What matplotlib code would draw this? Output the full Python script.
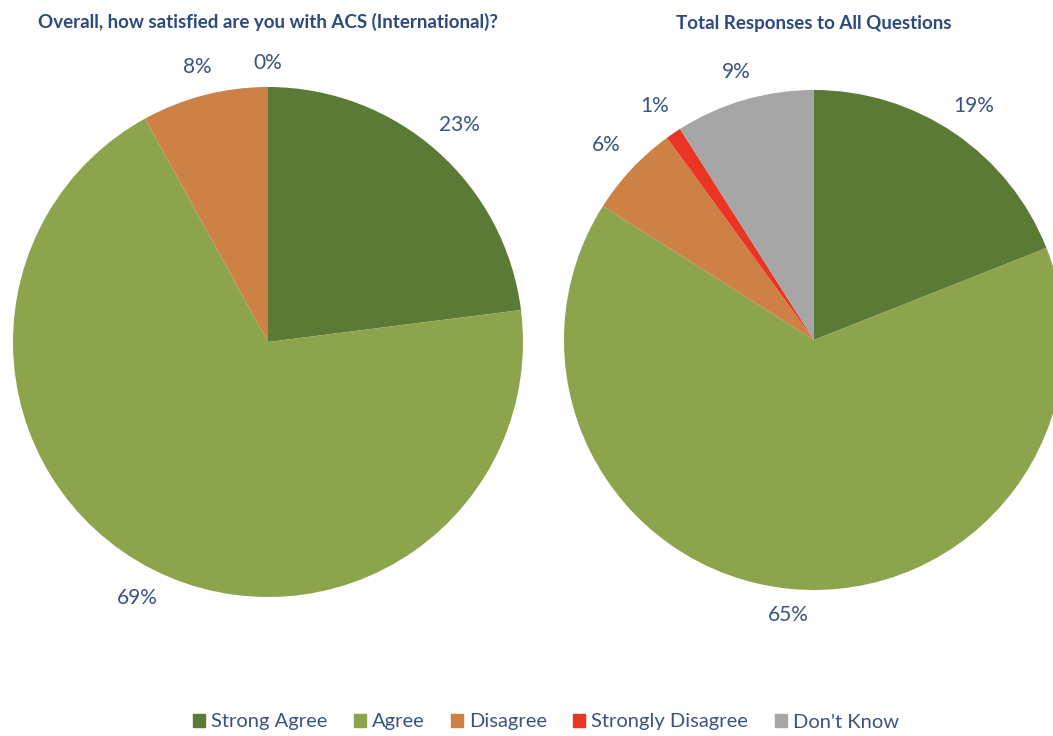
import matplotlib
matplotlib.use('Agg')
import numpy as np
import matplotlib.pyplot as plt
from matplotlib.patches import Patch

plt.rcParams['font.family'] = ['Lato', 'DejaVu Sans']

# data
categories = ['Strong Agree', 'Agree', 'Disagree', 'Strongly Disagree', "Don't Know"]
overall_vals = [23, 69, 8, 0]
total_vals = [19, 65, 6, 1, 9]
titles = ['Overall, how satisfied are you with ACS (International)?',
          'Total Responses to All Questions']

# colors
colors = ['#5b7a35', '#8ca44c', '#cd8144', '#ea3424', '#a6a6a6']
txtcol = '#3a5482'
titlecol = '#2c4a7c'

W, H = 1053, 736
fig = plt.figure(figsize=(W / 100, H / 100), dpi=100)

# pie centres / radii in pixels, title y
geoms = [(268, 342, 255, 22), (814, 340, 250, 24)]
gap, hw, hh = 14, 20, 10  # label gap and half text box size (px)
for vals, (cx, cy, r, ty), title in zip([overall_vals, total_vals], geoms, titles):
    ax = fig.add_axes([(cx - r) / W, (H - cy - r) / H, 2 * r / W, 2 * r / H])
    wedges, _, autotexts = ax.pie(vals, colors=colors[:len(vals)],
                                  startangle=90, counterclock=False,
                                  autopct='%.0f%%', pctdistance=1.15,
                                  wedgeprops=dict(linewidth=0))
    # place labels just outside the rim, like excel's "outside end"
    for w, t in zip(wedges, autotexts):
        ang = np.deg2rad((w.theta1 + w.theta2) / 2)
        c, s = np.cos(ang), np.sin(ang)
        d = 1 + (gap + hw * abs(c) + hh * abs(s)) / r
        t.set_position((d * c, d * s))
        t.set_color(txtcol)
        t.set_fontsize(15)
    ax.set_xlim(-1, 1)
    ax.set_ylim(-1, 1)
    ax.set_aspect('equal')
    fig.text(cx / W, 1 - ty / H, title, ha='center', va='center',
             fontsize=13.5, fontweight='bold', color=titlecol)

handles = [Patch(color=c, label=l) for c, l in zip(colors, categories)]
fig.legend(handles=handles, loc='center', ncol=5,
           bbox_to_anchor=(546 / W, 1 - 722 / H), frameon=False,
           fontsize=14.5, handlelength=0.6, handleheight=0.6,
           handletextpad=0.3, columnspacing=1.3, labelcolor=txtcol)

fig.savefig('out.png', dpi=100)
